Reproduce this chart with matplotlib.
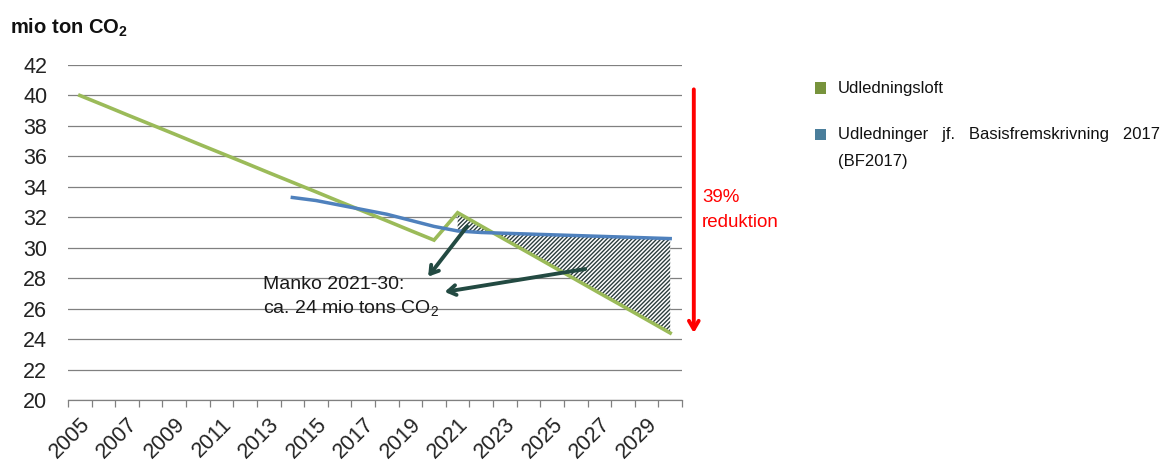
import numpy as np
import matplotlib
matplotlib.use('Agg')
import matplotlib.pyplot as plt
from matplotlib.patches import Rectangle

plt.rcParams['font.family'] = ['Liberation Sans', 'DejaVu Sans']
plt.rcParams['mathtext.fontset'] = 'custom'
plt.rcParams['mathtext.rm'] = 'Liberation Sans'
plt.rcParams['mathtext.bf'] = 'Liberation Sans:bold'
plt.rcParams['mathtext.default'] = 'regular'
plt.rcParams['hatch.linewidth'] = 1.0

# ---- data ----
years = list(range(2005, 2031))
loft = [40.00, 39.37, 38.73, 38.10, 37.47, 36.83, 36.20, 35.57, 34.93, 34.30, 33.67,
        33.03, 32.40, 31.77, 31.13, 30.50, 32.30, 31.42, 30.54, 29.67, 28.79, 27.91,
        27.03, 26.16, 25.28, 24.40]
bf_years = list(range(2014, 2031))
bf2017 = [33.3, 33.1, 32.8, 32.5, 32.2, 31.8, 31.4, 31.1, 31.0, 30.95, 30.9, 30.85,
          30.8, 30.75, 30.7, 30.65, 30.6]
manko_start = 2021
year_labels = list(range(2005, 2030, 2))
y_ticks = list(range(20, 43, 2))
legend_labels = ['Udledningsloft',
                 'Udledninger   jf.   Basisfremskrivning   2017\n(BF2017)']

GREEN = '#9bbb59'
BLUE = '#4f81bd'
GREEN_LEG = '#77933c'
BLUE_LEG = '#4a7e9b'
HATCH = '#2b3d3d'
ARROW = '#234a42'
GRID = '#808080'

fig = plt.figure(figsize=(11.68, 4.62), dpi=100)
ax = fig.add_axes([68/1168, 1-400/462, (682-68)/1168, (400-65)/462])

ax.set_xlim(2004.5, 2030.5)
ax.set_ylim(20, 42)

# hatched shortfall
i0 = years.index(manko_start)
j0 = bf_years.index(manko_start)
ax.fill_between(years[i0:], loft[i0:], bf2017[j0:], facecolor='white',
                edgecolor=HATCH, hatch='////////', linewidth=0, zorder=2)

ax.plot(years, loft, color=GREEN, lw=2.6, zorder=3, solid_joinstyle='miter')
ax.plot(bf_years, bf2017, color=BLUE, lw=2.5, zorder=3)

# axes styling
ax.set_yticks(y_ticks)
ax.yaxis.grid(True, color=GRID, lw=0.9)
ax.set_axisbelow(True)
for s in ['left', 'right', 'top']:
    ax.spines[s].set_visible(False)
ax.spines['bottom'].set_color(GRID)
ax.spines['bottom'].set_linewidth(0.9)
ax.tick_params(axis='y', length=0, pad=15, labelsize=15.5, labelcolor='#222222')
ax.set_xticks(year_labels)
ax.set_xticklabels([str(y) for y in year_labels], rotation=45, ha='right',
                   va='top', rotation_mode='anchor', fontsize=15.5, color='#222222')
ax.tick_params(axis='x', which='major', length=0, pad=10)
ax.set_xticks(np.arange(years[0] - 0.5, years[-1] + 1, 1), minor=True)
ax.tick_params(axis='x', which='minor', length=5, color=GRID, width=0.9, direction='out')

# arrows for Manko
arr = dict(arrowstyle='->,head_length=0.55,head_width=0.35', color=ARROW, lw=2.8,
           shrinkA=0, shrinkB=0)
ax.annotate('', xy=(2019.75, 28.1), xytext=(2021.4, 31.4), arrowprops=arr, zorder=4)
ax.annotate('', xy=(2020.45, 27.1), xytext=(2026.4, 28.6), arrowprops=arr, zorder=4)
ax.text(2012.75, 26.75, 'Manko 2021-30:\nca. 24 mio tons CO$_2$', fontsize=14,
        va='center', ha='left', linespacing=1.3, color='#1a1a1a', zorder=5)

# red reduction arrow
ax.annotate('', xy=(2031, 24.4), xytext=(2031, 40.4), annotation_clip=False,
            arrowprops=dict(arrowstyle='->,head_length=0.6,head_width=0.35',
                            color='#ff0000', lw=2.8, shrinkA=0, shrinkB=0))
fig.text(702/1168, 1-210/462, '39%\nreduktion', color='#ff0000', fontsize=13.5,
         va='center', ha='left', linespacing=1.6)

# title
fig.text(10/1168, 1-28/462, r'mio ton CO$_\mathbf{2}$', fontsize=14.5,
         fontweight='bold', va='center', ha='left', color='#111111')

# legend
for (yc, lab, col) in [(88, legend_labels[0], GREEN_LEG), (134, legend_labels[1], BLUE_LEG)]:
    fig.patches.append(Rectangle((815/1168, 1-(yc+5.5)/462), 11/1168, 11/462,
                                 transform=fig.transFigure, facecolor=col,
                                 edgecolor='none'))
    fig.text(838/1168, 1-(yc-7)/462, lab, fontsize=12, va='top', ha='left',
             linespacing=2.0, color='#111111')

fig.savefig('out.png', dpi=100)
